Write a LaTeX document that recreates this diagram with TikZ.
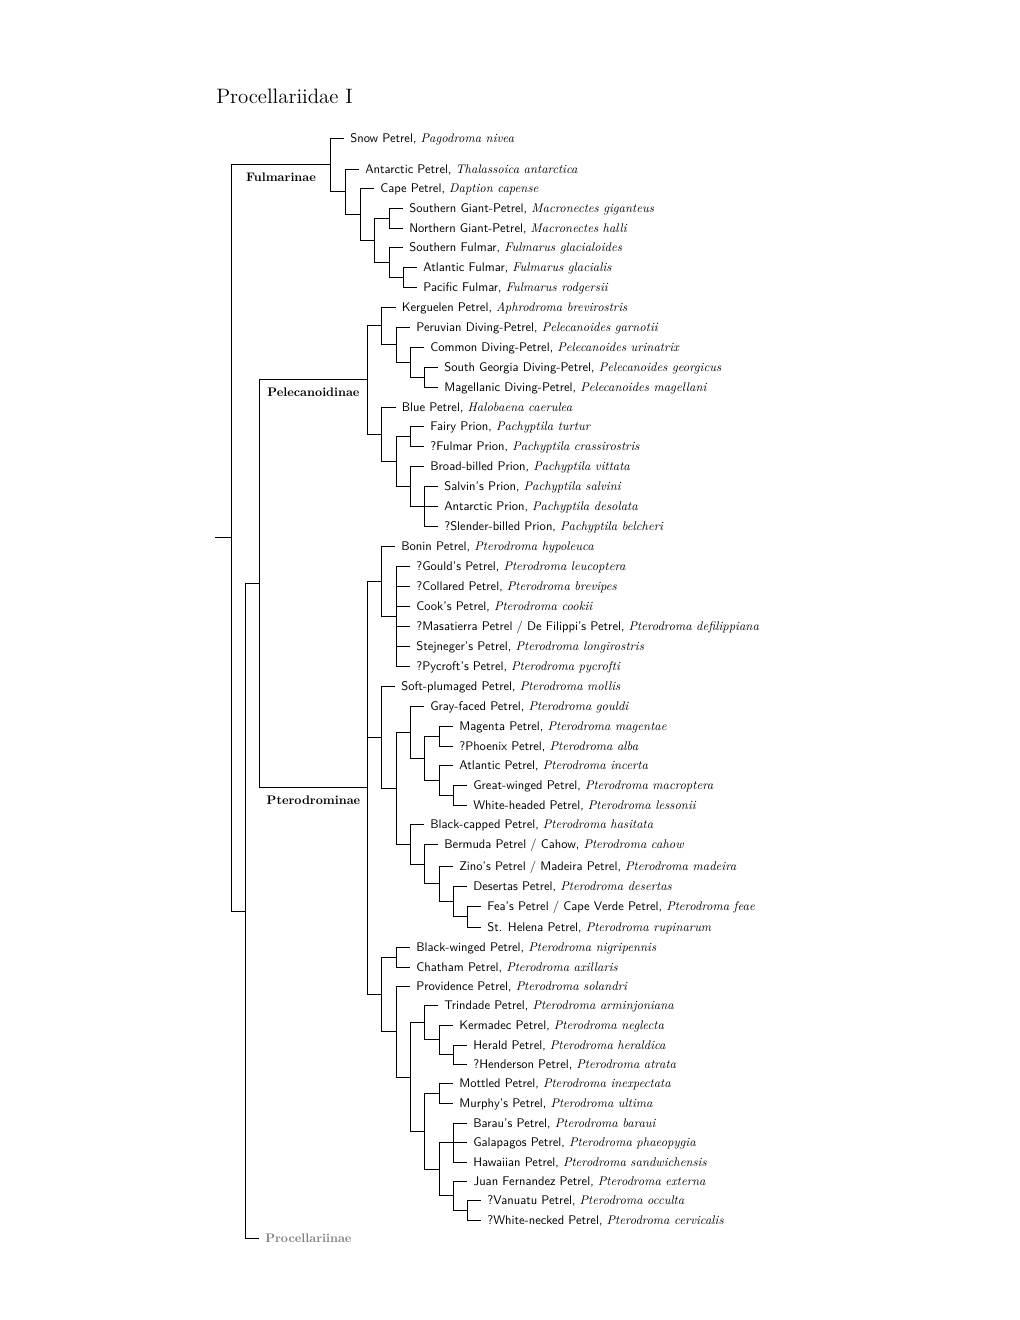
\documentclass[tikz,border=0pt]{standalone}
\newcommand\sci[1]{\textrm{\textit{#1}}}
\newcommand\tx[1]{\scalebox{0.752}{#1}}
\newcommand\cx[1]{\scalebox{0.745}{#1}}
\tikzset{
  edge/.style={draw=black, line width=0.6pt},
  leaf/.style={anchor=west, inner xsep=3.6pt, inner ysep=0pt, text height=4.8pt, text depth=0pt, font=\fontsize{10}{12}\selectfont\sffamily},
  clade/.style={anchor=base, inner sep=0pt, font=\fontsize{10}{12}\selectfont\rmfamily\bfseries},
  titletext/.style={anchor=base west, inner sep=0pt, font=\fontsize{12.5}{15}\selectfont\rmfamily}
}
\begin{document}
\begin{tikzpicture}[x=0.6pt, y=-0.6pt]
\useasboundingbox (0,0) rectangle (1020,1320);
\node[titletext] (title) at (216,103) {Procellariidae I};
% internal nodes
\coordinate (r0) at (215,537.95);
\coordinate (root) at (231,537.95);
\coordinate (A) at (330,164.75);
\coordinate (B) at (345,191.5);
\coordinate (C) at (360,214);
\coordinate (D) at (374,240);
\coordinate (E) at (389,218);
\coordinate (F) at (389,262);
\coordinate (G) at (403,277);
\coordinate (Xn) at (245,911.15);
\coordinate (Y) at (259,583.8);
\coordinate (PEL) at (367,379.9);
\coordinate (P1) at (381.5,325.75);
\coordinate (P2) at (396,344.5);
\coordinate (P3) at (410,362);
\coordinate (P4) at (424,377);
\coordinate (Q1) at (381.5,434.05);
\coordinate (Q2) at (396,461.1);
\coordinate (Q3) at (410,436.25);
\coordinate (Q4) at (410,486);
\coordinate (Q5) at (424,506);
\coordinate (PTE) at (367,787.7);
\coordinate (V1) at (381,581);
\coordinate (V2) at (396,616);
\coordinate (W) at (381,737.1);
\coordinate (R1) at (396,788.2);
\coordinate (R2) at (410,732.06);
\coordinate (R3) at (424,758.1);
\coordinate (R4) at (439,736);
\coordinate (R5) at (439,780.25);
\coordinate (R6) at (453,795);
\coordinate (S1) at (410,844.3);
\coordinate (S2) at (424,864.1);
\coordinate (S3) at (439,883.7);
\coordinate (S4) at (453,901.4);
\coordinate (S5) at (467,916.75);
\coordinate (X3) at (381,994.4);
\coordinate (T1) at (396,957);
\coordinate (T2) at (396,1031.75);
\coordinate (T3) at (410,1077);
\coordinate (T4) at (424,1022.7);
\coordinate (T5) at (439,1039.9);
\coordinate (T6) at (453,1054.75);
\coordinate (U1) at (424,1131.2);
\coordinate (U2) at (439,1093.25);
\coordinate (U3) at (439,1169.2);
\coordinate (U4) at (453,1142.5);
\coordinate (U5) at (453,1195.9);
\coordinate (U6) at (467,1210.25);
% leaves
\node[leaf] (l1) at (344,138) {\tx{Snow Petrel, \sci{Pagodroma nivea}}};
\node[leaf] (l2) at (359,169) {\tx{Antarctic Petrel, \sci{Thalassoica antarctica}}};
\node[leaf] (l3) at (374,188) {\tx{Cape Petrel, \sci{Daption capense}}};
\node[leaf] (l4) at (403,208) {\tx{Southern Giant-Petrel, \sci{Macronectes giganteus}}};
\node[leaf] (l5) at (403,228) {\tx{Northern Giant-Petrel, \sci{Macronectes halli}}};
\node[leaf] (l6) at (403,247) {\tx{Southern Fulmar, \sci{Fulmarus glacialoides}}};
\node[leaf] (l7) at (417,267) {\tx{Atlantic Fulmar, \sci{Fulmarus glacialis}}};
\node[leaf] (l8) at (417,287) {\tx{Pacific Fulmar, \sci{Fulmarus rodgersii}}};
\node[leaf] (l9) at (395.5,307) {\tx{Kerguelen Petrel, \sci{Aphrodroma brevirostris}}};
\node[leaf] (l10) at (410,327) {\tx{Peruvian Diving-Petrel, \sci{Pelecanoides garnotii}}};
\node[leaf] (l11) at (424,347) {\tx{Common Diving-Petrel, \sci{Pelecanoides urinatrix}}};
\node[leaf] (l12) at (438,367) {\tx{South Georgia Diving-Petrel, \sci{Pelecanoides georgicus}}};
\node[leaf] (l13) at (438,387) {\tx{Magellanic Diving-Petrel, \sci{Pelecanoides magellani}}};
\node[leaf] (l14) at (395.5,407) {\tx{Blue Petrel, \sci{Halobaena caerulea}}};
\node[leaf] (l15) at (424,426.5) {\tx{Fairy Prion, \sci{Pachyptila turtur}}};
\node[leaf] (l16) at (424,446) {\tx{?Fulmar Prion, \sci{Pachyptila crassirostris}}};
\node[leaf] (l17) at (424,466) {\tx{Broad-billed Prion, \sci{Pachyptila vittata}}};
\node[leaf] (l18) at (438,486) {\tx{Salvin's Prion, \sci{Pachyptila salvini}}};
\node[leaf] (l19) at (438,506) {\tx{Antarctic Prion, \sci{Pachyptila desolata}}};
\node[leaf] (l20) at (438,526) {\tx{?Slender-billed Prion, \sci{Pachyptila belcheri}}};
\node[leaf] (l21) at (395,546) {\tx{Bonin Petrel, \sci{Pterodroma hypoleuca}}};
\node[leaf] (l22) at (410,566) {\tx{?Gould's Petrel, \sci{Pterodroma leucoptera}}};
\node[leaf] (l23) at (410,586) {\tx{?Collared Petrel, \sci{Pterodroma brevipes}}};
\node[leaf] (l24) at (410,606) {\tx{Cook's Petrel, \sci{Pterodroma cookii}}};
\node[leaf] (l25) at (410,626) {\tx{?Masatierra Petrel / De Filippi's Petrel, \sci{Pterodroma defilippiana}}};
\node[leaf] (l26) at (410,646) {\tx{Stejneger's Petrel, \sci{Pterodroma longirostris}}};
\node[leaf] (l27) at (410,666) {\tx{?Pycroft's Petrel, \sci{Pterodroma pycrofti}}};
\node[leaf] (l28) at (395,686) {\tx{Soft-plumaged Petrel, \sci{Pterodroma mollis}}};
\node[leaf] (l29) at (424,706) {\tx{Gray-faced Petrel, \sci{Pterodroma gouldi}}};
\node[leaf] (l30) at (453,726) {\tx{Magenta Petrel, \sci{Pterodroma magentae}}};
\node[leaf] (l31) at (453,746) {\tx{?Phoenix Petrel, \sci{Pterodroma alba}}};
\node[leaf] (l32) at (453,765.5) {\tx{Atlantic Petrel, \sci{Pterodroma incerta}}};
\node[leaf] (l33) at (467,785) {\tx{Great-winged Petrel, \sci{Pterodroma macroptera}}};
\node[leaf] (l34) at (467,805) {\tx{White-headed Petrel, \sci{Pterodroma lessonii}}};
\node[leaf] (l35) at (424,824.5) {\tx{Black-capped Petrel, \sci{Pterodroma hasitata}}};
\node[leaf] (l36) at (438,844.5) {\tx{Bermuda Petrel / Cahow, \sci{Pterodroma cahow}}};
\node[leaf] (l37) at (453,866) {\tx{Zino's Petrel / Madeira Petrel, \sci{Pterodroma madeira}}};
\node[leaf] (l38) at (467,886) {\tx{Desertas Petrel, \sci{Pterodroma desertas}}};
\node[leaf] (l39) at (481,906.5) {\tx{Fea's Petrel / Cape Verde Petrel, \sci{Pterodroma feae}}};
\node[leaf] (l40) at (481,927) {\tx{St. Helena Petrel, \sci{Pterodroma rupinarum}}};
\node[leaf] (l41) at (410,947) {\tx{Black-winged Petrel, \sci{Pterodroma nigripennis}}};
\node[leaf] (l42) at (410,967) {\tx{Chatham Petrel, \sci{Pterodroma axillaris}}};
\node[leaf] (l43) at (410,986.5) {\tx{Providence Petrel, \sci{Pterodroma solandri}}};
\node[leaf] (l44) at (438,1005.5) {\tx{Trindade Petrel, \sci{Pterodroma arminjoniana}}};
\node[leaf] (l45) at (453,1025) {\tx{Kermadec Petrel, \sci{Pterodroma neglecta}}};
\node[leaf] (l46) at (467,1045) {\tx{Herald Petrel, \sci{Pterodroma heraldica}}};
\node[leaf] (l47) at (467,1064.5) {\tx{?Henderson Petrel, \sci{Pterodroma atrata}}};
\node[leaf] (l48) at (453,1083.5) {\tx{Mottled Petrel, \sci{Pterodroma inexpectata}}};
\node[leaf] (l49) at (453,1103) {\tx{Murphy's Petrel, \sci{Pterodroma ultima}}};
\node[leaf] (l50) at (467,1123) {\tx{Barau's Petrel, \sci{Pterodroma baraui}}};
\node[leaf] (l51) at (467,1142.5) {\tx{Galapagos Petrel, \sci{Pterodroma phaeopygia}}};
\node[leaf] (l52) at (467,1162) {\tx{Hawaiian Petrel, \sci{Pterodroma sandwichensis}}};
\node[leaf] (l53) at (467,1181.5) {\tx{Juan Fernandez Petrel, \sci{Pterodroma externa}}};
\node[leaf] (l54) at (481,1200.5) {\tx{?Vanuatu Petrel, \sci{Pterodroma occulta}}};
\node[leaf] (l55) at (481,1220) {\tx{?White-necked Petrel, \sci{Pterodroma cervicalis}}};
\node[leaf, font=\fontsize{10}{12}\selectfont\rmfamily\bfseries, text=black!50] (lProc) at (259,1238.5) {\cx{Procellariinae}};
% clade labels
\node[clade] (cF) at (281,181) {\cx{Fulmarinae}};
\node[clade] (cPel) at (313.5,396) {\cx{Pelecanoidinae}};
\node[clade] (cPte) at (313.5,804) {\cx{Pterodrominae}};
% edges
\draw[edge] (r0) -- (root);
\foreach \p/\c in {root/A, root/Xn, A/B, B/C, C/D, D/E, D/F, F/G,
  Xn/Y, Y/PEL, Y/PTE, PEL/P1, PEL/Q1, P1/P2, P2/P3, P3/P4, Q1/Q2, Q2/Q3, Q2/Q4, Q4/Q5,
  PTE/V1, PTE/W, PTE/X3, V1/V2, W/R1, R1/R2, R1/S1, R2/R3, R3/R4, R3/R5, R5/R6,
  S1/S2, S2/S3, S3/S4, S4/S5, X3/T1, X3/T2, T2/T3, T3/T4, T3/U1, T4/T5, T5/T6,
  U1/U2, U1/U3, U3/U4, U3/U5, U5/U6}
  \draw[edge] (\p) |- (\c);
\foreach \p/\c in {A/l1, B/l2, C/l3, E/l4, E/l5, F/l6, G/l7, G/l8,
  P1/l9, P2/l10, P3/l11, P4/l12, P4/l13, Q1/l14, Q3/l15, Q3/l16, Q4/l17, Q5/l18, Q5/l19, Q5/l20,
  V1/l21, V2/l22, V2/l23, V2/l24, V2/l25, V2/l26, V2/l27, W/l28, R2/l29, R4/l30, R4/l31,
  R5/l32, R6/l33, R6/l34, S1/l35, S2/l36, S3/l37, S4/l38, S5/l39, S5/l40,
  T1/l41, T1/l42, T2/l43, T4/l44, T5/l45, T6/l46, T6/l47, U2/l48, U2/l49,
  U4/l50, U4/l51, U4/l52, U5/l53, U6/l54, U6/l55, Xn/lProc}
  \draw[edge] (\p) |- (\c.west);
\end{tikzpicture}
\end{document}
